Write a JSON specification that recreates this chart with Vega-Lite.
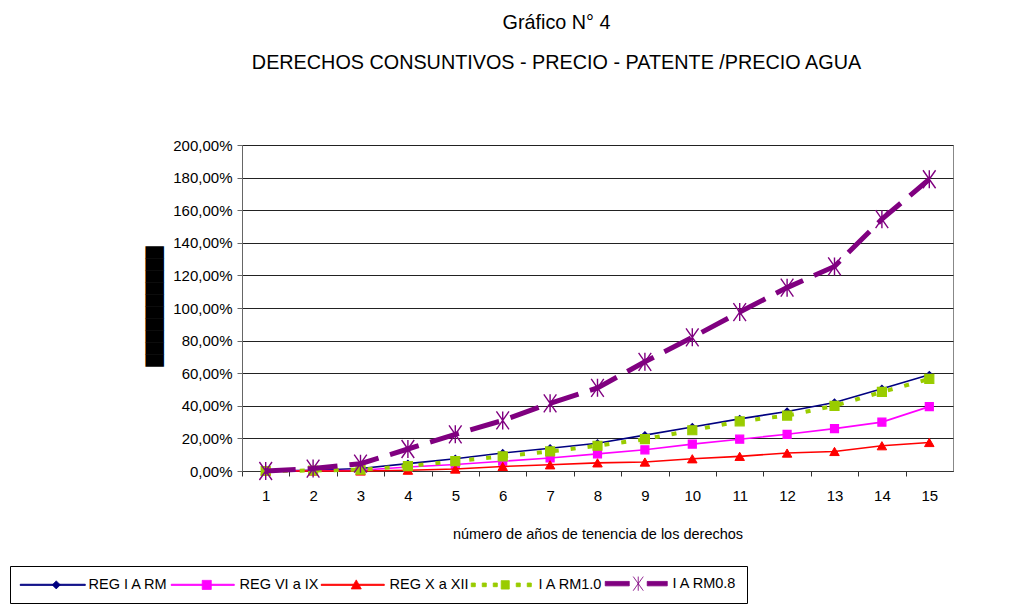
{
  "$schema": "https://vega.github.io/schema/vega-lite/v6.json",
  "width": 711,
  "height": 326,
  "autosize": "none",
  "padding": {"left": 242, "top": 145, "right": 68, "bottom": 135},
  "background": "#ffffff",
  "title": {
    "text": ["Gráfico N° 4", "DERECHOS CONSUNTIVOS  - PRECIO - PATENTE /PRECIO AGUA"],
    "font": "Liberation Sans",
    "fontSize": 19.8,
    "fontWeight": "normal",
    "color": "#000000",
    "lineHeight": 40,
    "anchor": "middle",
    "frame": "group",
    "dx": -41,
    "offset": 65
  },
  "data": {
    "values": [
      {"anio": 1, "serie": "REG I A RM", "valor": 0},
      {"anio": 2, "serie": "REG I A RM", "valor": 0.5},
      {"anio": 3, "serie": "REG I A RM", "valor": 1.5},
      {"anio": 4, "serie": "REG I A RM", "valor": 4.5},
      {"anio": 5, "serie": "REG I A RM", "valor": 7.5},
      {"anio": 6, "serie": "REG I A RM", "valor": 11},
      {"anio": 7, "serie": "REG I A RM", "valor": 14},
      {"anio": 8, "serie": "REG I A RM", "valor": 17},
      {"anio": 9, "serie": "REG I A RM", "valor": 22},
      {"anio": 10, "serie": "REG I A RM", "valor": 27},
      {"anio": 11, "serie": "REG I A RM", "valor": 32},
      {"anio": 12, "serie": "REG I A RM", "valor": 36.5},
      {"anio": 13, "serie": "REG I A RM", "valor": 42},
      {"anio": 14, "serie": "REG I A RM", "valor": 50.5},
      {"anio": 15, "serie": "REG I A RM", "valor": 59},
      {"anio": 1, "serie": "REG VI a IX", "valor": 0},
      {"anio": 2, "serie": "REG VI a IX", "valor": 0.3},
      {"anio": 3, "serie": "REG VI a IX", "valor": 0.5},
      {"anio": 4, "serie": "REG VI a IX", "valor": 2.5},
      {"anio": 5, "serie": "REG VI a IX", "valor": 4},
      {"anio": 6, "serie": "REG VI a IX", "valor": 6},
      {"anio": 7, "serie": "REG VI a IX", "valor": 8},
      {"anio": 8, "serie": "REG VI a IX", "valor": 10.5},
      {"anio": 9, "serie": "REG VI a IX", "valor": 13},
      {"anio": 10, "serie": "REG VI a IX", "valor": 16.5},
      {"anio": 11, "serie": "REG VI a IX", "valor": 19.5},
      {"anio": 12, "serie": "REG VI a IX", "valor": 22.5},
      {"anio": 13, "serie": "REG VI a IX", "valor": 26},
      {"anio": 14, "serie": "REG VI a IX", "valor": 30},
      {"anio": 15, "serie": "REG VI a IX", "valor": 39.5},
      {"anio": 1, "serie": "REG X a XII", "valor": 0},
      {"anio": 2, "serie": "REG X a XII", "valor": 0},
      {"anio": 3, "serie": "REG X a XII", "valor": 0},
      {"anio": 4, "serie": "REG X a XII", "valor": 0.5},
      {"anio": 5, "serie": "REG X a XII", "valor": 1.2},
      {"anio": 6, "serie": "REG X a XII", "valor": 2.8},
      {"anio": 7, "serie": "REG X a XII", "valor": 3.8},
      {"anio": 8, "serie": "REG X a XII", "valor": 5},
      {"anio": 9, "serie": "REG X a XII", "valor": 5.5},
      {"anio": 10, "serie": "REG X a XII", "valor": 7.5},
      {"anio": 11, "serie": "REG X a XII", "valor": 9},
      {"anio": 12, "serie": "REG X a XII", "valor": 11},
      {"anio": 13, "serie": "REG X a XII", "valor": 12},
      {"anio": 14, "serie": "REG X a XII", "valor": 15.5},
      {"anio": 15, "serie": "REG X a XII", "valor": 17.5},
      {"anio": 1, "serie": "I A RM1.0", "valor": 0},
      {"anio": 2, "serie": "I A RM1.0", "valor": 0.3},
      {"anio": 3, "serie": "I A RM1.0", "valor": 0.8},
      {"anio": 4, "serie": "I A RM1.0", "valor": 3},
      {"anio": 5, "serie": "I A RM1.0", "valor": 6},
      {"anio": 6, "serie": "I A RM1.0", "valor": 9},
      {"anio": 7, "serie": "I A RM1.0", "valor": 12},
      {"anio": 8, "serie": "I A RM1.0", "valor": 15.5},
      {"anio": 9, "serie": "I A RM1.0", "valor": 19.5},
      {"anio": 10, "serie": "I A RM1.0", "valor": 25},
      {"anio": 11, "serie": "I A RM1.0", "valor": 30.5},
      {"anio": 12, "serie": "I A RM1.0", "valor": 34},
      {"anio": 13, "serie": "I A RM1.0", "valor": 40},
      {"anio": 14, "serie": "I A RM1.0", "valor": 48.5},
      {"anio": 15, "serie": "I A RM1.0", "valor": 56.5},
      {"anio": 1, "serie": "I A RM0.8", "valor": 0},
      {"anio": 2, "serie": "I A RM0.8", "valor": 1.5},
      {"anio": 3, "serie": "I A RM0.8", "valor": 4.5},
      {"anio": 4, "serie": "I A RM0.8", "valor": 13.5},
      {"anio": 5, "serie": "I A RM0.8", "valor": 22.5},
      {"anio": 6, "serie": "I A RM0.8", "valor": 31},
      {"anio": 7, "serie": "I A RM0.8", "valor": 41.5},
      {"anio": 8, "serie": "I A RM0.8", "valor": 51},
      {"anio": 9, "serie": "I A RM0.8", "valor": 67},
      {"anio": 10, "serie": "I A RM0.8", "valor": 82},
      {"anio": 11, "serie": "I A RM0.8", "valor": 97.5},
      {"anio": 12, "serie": "I A RM0.8", "valor": 112.5},
      {"anio": 13, "serie": "I A RM0.8", "valor": 125.5},
      {"anio": 14, "serie": "I A RM0.8", "valor": 154.5},
      {"anio": 15, "serie": "I A RM0.8", "valor": 179}
    ]
  },
  "encoding": {
    "x": {
      "field": "anio",
      "type": "ordinal",
      "sort": null,
      "scale": {"type": "point", "padding": 0.5},
      "axis": {
        "title": "número de años de tenencia de los derechos",
        "labelAngle": 0,
        "tickOffset": -23.7,
        "labelOffset": 23.7,
        "tickSize": 5,
        "labelPadding": 12,
        "labelFontSize": 15,
        "titleFontSize": 14.5,
        "titlePadding": 24,
        "domainColor": "#333333",
        "tickColor": "#333333",
        "grid": false
      }
    },
    "y": {
      "field": "valor",
      "type": "quantitative",
      "scale": {"domain": [0, 200], "nice": false},
      "axis": {
        "values": [0, 20, 40, 60, 80, 100, 120, 140, 160, 180, 200],
        "labelExpr": "replace(format(datum.value, '.2f'), '.', ',') + '%'",
        "tickSize": 5,
        "labelPadding": 5,
        "labelFontSize": 15,
        "grid": true,
        "gridColor": "#222222",
        "gridWidth": 1,
        "domainColor": "#666666",
        "tickColor": "#666666",
        "title": "██████████",
        "titleFont": "DejaVu Sans",
        "titleFontSize": 15.6,
        "titleFontWeight": "normal",
        "titleColor": "#000000",
        "titleX": -88,
        "titleY": 161,
        "titleAlign": "center",
        "titleBaseline": "middle",
        "titleAngle": -90
      }
    }
  },
  "layer": [
    {
      "transform": [{"filter": "datum.serie === 'REG I A RM'"}],
      "mark": {"type": "line", "strokeWidth": 1.6},
      "encoding": {
        "color": {
          "field": "serie",
          "type": "nominal",
          "sort": null,
          "scale": {
            "domain": ["REG I A RM", "REG VI a IX", "REG X a XII", "I A RM1.0", "I A RM0.8"],
            "range": ["#000080", "#FF00FF", "#FF0000", "#99CC00", "#800080"]
          },
          "legend": {
            "values": ["REG I A RM", "REG VI a IX", "REG X a XII", "I A RM1.0", "I A RM0.8"],
            "orient": "none",
            "legendX": -232,
            "legendY": 421,
            "direction": "horizontal",
            "title": null,
            "strokeColor": "#000000",
            "fillColor": "#ffffff",
            "padding": 10,
            "labelFont": "Liberation Sans",
            "labelFontSize": 14.5,
            "labelColor": "#000000",
            "symbolSize": 16,
            "labelOffset": 54,
            "columnPadding": 0,
            "encode": {
              "symbols": {
                "update": {
                  "shape": {"signal": "datum.value === 'REG I A RM' ? 'M-3.5,-0.3H29V0.3H-3.5ZM14.5,-2L16.5,0L14.5,2L12.5,0Z' : datum.value === 'REG VI a IX' ? 'M-3.5,-0.3H28V0.3H-3.5ZM12,-2.25H16.5V2.25H12Z' : datum.value === 'REG X a XII' ? 'M-3.5,-0.3H28V0.3H-3.5ZM14,-2.5L16.5,2L11.5,2Z' : datum.value === 'I A RM1.0' ? 'M-3,-0.9H-1V0.9H-3ZM2.5,-0.9H4.5V0.9H2.5ZM8,-0.9H10V0.9H8ZM12,-2.1H16V2.1H12ZM19.5,-0.9H21.5V0.9H19.5ZM25,-0.9H27V0.9H25Z' : 'M-3,-1.1H9V1.1H-3ZM18,-1.1H28V1.1H18ZM13.5,-3.5V3.5M11,-3.5L16,3.5M11,3.5L16,-3.5'"},
                  "fill": {"scale": "color", "field": "value"},
                  "stroke": {"scale": "color", "field": "value"},
                  "strokeWidth": {"value": 1},
                  "strokeDash": {"value": [1, 0]},
                  "size": {"value": 16},
                  "opacity": {"value": 1}
                }
              }
            }
          }
        }
      }
    },
    {
      "transform": [{"filter": "datum.serie === 'REG I A RM'"}],
      "mark": {"type": "point", "shape": "diamond", "filled": true, "size": 45, "stroke": "#000080", "strokeWidth": 1.2, "opacity": 1},
      "encoding": {"color": {"field": "serie", "type": "nominal", "legend": null}}
    },
    {
      "transform": [{"filter": "datum.serie === 'REG VI a IX'"}],
      "mark": {"type": "line", "strokeWidth": 1.6},
      "encoding": {"color": {"field": "serie", "type": "nominal"}}
    },
    {
      "transform": [{"filter": "datum.serie === 'REG VI a IX'"}],
      "mark": {"type": "point", "shape": "square", "filled": true, "size": 64, "stroke": "#FF00FF", "strokeWidth": 1.2, "opacity": 1},
      "encoding": {"color": {"field": "serie", "type": "nominal", "legend": null}}
    },
    {
      "transform": [{"filter": "datum.serie === 'REG X a XII'"}],
      "mark": {"type": "line", "strokeWidth": 1.6},
      "encoding": {"color": {"field": "serie", "type": "nominal"}}
    },
    {
      "transform": [{"filter": "datum.serie === 'REG X a XII'"}],
      "mark": {"type": "point", "shape": "triangle-up", "filled": true, "size": 90, "stroke": "#FF0000", "strokeWidth": 1, "opacity": 1},
      "encoding": {"color": {"field": "serie", "type": "nominal", "legend": null}}
    },
    {
      "transform": [{"filter": "datum.serie === 'I A RM1.0'"}],
      "mark": {"type": "line", "strokeWidth": 4, "strokeDash": [5, 12]},
      "encoding": {"color": {"field": "serie", "type": "nominal"}}
    },
    {
      "transform": [{"filter": "datum.serie === 'I A RM1.0'"}],
      "mark": {"type": "point", "shape": "square", "filled": true, "size": 81, "stroke": "#99CC00", "strokeWidth": 1.2, "opacity": 1},
      "encoding": {"color": {"field": "serie", "type": "nominal", "legend": null}}
    },
    {
      "transform": [{"filter": "datum.serie === 'I A RM0.8'"}],
      "mark": {"type": "line", "strokeWidth": 5, "strokeDash": [30, 12]},
      "encoding": {"color": {"field": "serie", "type": "nominal"}}
    },
    {
      "transform": [{"filter": "datum.serie === 'I A RM0.8'"}],
      "mark": {"type": "point", "shape": "M0,-1V1M-0.7,-1L0.7,1M-0.7,1L0.7,-1", "filled": false, "size": 324, "stroke": "#800080", "strokeWidth": 1.4, "opacity": 1},
      "encoding": {"color": {"field": "serie", "type": "nominal", "legend": null}}
    }
  ],
  "config": {
    "font": "Liberation Sans",
    "view": {"stroke": "#888888", "strokeWidth": 1},
    "axis": {
      "labelFont": "Liberation Sans",
      "titleFont": "Liberation Sans",
      "labelColor": "#000000",
      "titleColor": "#000000",
      "titleFontWeight": "normal"
    }
  }
}
